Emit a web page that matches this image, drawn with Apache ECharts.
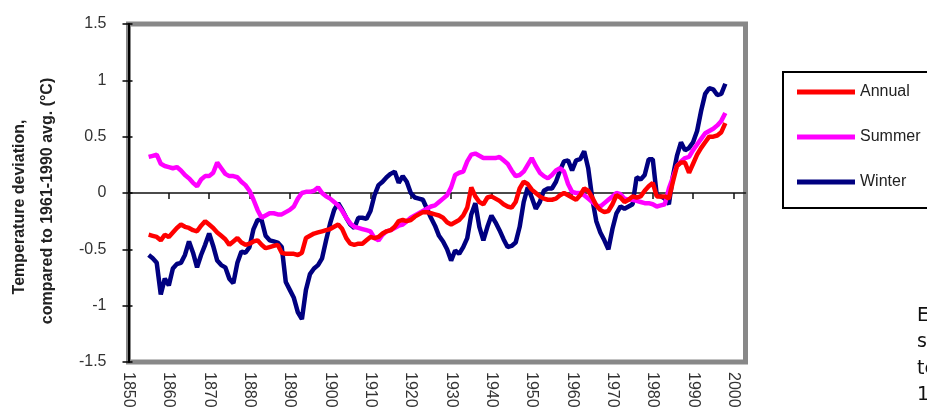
<!DOCTYPE html>
<html>
<head>
<meta charset="utf-8">
<script src="https://cdn.jsdelivr.net/npm/echarts@6/dist/echarts.min.js"></script>
<style>
	html, body {margin:0; padding:0; background:#fff;}
	#chart {width:927px; height:408px;}
</style>
</head>
<body>
<div id="chart"></div>
<script>
//	smoothed temperature deviation, one value per year from startYear
var startYear = 1855;

var annual = [
	-0.37,-0.38,-0.39,-0.42,-0.37,-0.39,-0.35,-0.31,-0.28,-0.30,	// 1855
	-0.31,-0.33,-0.34,-0.29,-0.25,-0.28,-0.31,-0.35,-0.38,-0.41,	// 1865
	-0.46,-0.43,-0.40,-0.44,-0.46,-0.45,-0.43,-0.42,-0.46,-0.49,	// 1875
	-0.48,-0.47,-0.46,-0.53,-0.54,-0.54,-0.54,-0.55,-0.53,-0.40,	// 1885
	-0.38,-0.36,-0.35,-0.34,-0.33,-0.32,-0.30,-0.28,-0.32,-0.40,	// 1895
	-0.45,-0.46,-0.45,-0.45,-0.42,-0.39,-0.40,-0.39,-0.36,-0.34,	// 1905
	-0.33,-0.30,-0.25,-0.24,-0.25,-0.24,-0.21,-0.19,-0.17,-0.17,	// 1915
	-0.18,-0.19,-0.20,-0.22,-0.26,-0.28,-0.26,-0.24,-0.20,-0.13,	// 1925
	0.05,-0.03,-0.08,-0.10,-0.04,-0.03,-0.05,-0.07,-0.10,-0.12,	// 1935
	-0.13,-0.08,0.04,0.10,0.08,0.03,0.00,-0.03,-0.05,-0.06,	// 1945
	-0.06,-0.05,-0.02,0.00,-0.02,-0.04,-0.06,-0.02,0.04,0.02,	// 1955
	-0.04,-0.11,-0.15,-0.17,-0.16,-0.10,-0.02,-0.04,-0.08,-0.06,	// 1965
	-0.03,-0.04,-0.03,0.02,0.06,0.09,-0.03,-0.03,-0.03,-0.05,	// 1975
	0.10,0.24,0.27,0.27,0.18,0.26,0.34,0.40,0.45,0.50,	// 1985
	0.50,0.51,0.54,0.62	// 1995
];

var summer = [
	0.32,0.33,0.34,0.26,0.24,0.23,0.22,0.23,0.20,0.16,
	0.13,0.09,0.06,0.12,0.15,0.15,0.18,0.27,0.22,0.17,
	0.15,0.15,0.14,0.10,0.07,0.02,-0.06,-0.15,-0.22,-0.20,
	-0.18,-0.18,-0.19,-0.19,-0.17,-0.15,-0.12,-0.05,0.00,0.01,
	0.01,0.02,0.05,0.00,-0.03,-0.05,-0.08,-0.11,-0.16,-0.22,
	-0.27,-0.30,-0.31,-0.32,-0.33,-0.34,-0.40,-0.42,-0.37,-0.34,
	-0.33,-0.31,-0.29,-0.28,-0.25,-0.22,-0.20,-0.18,-0.16,-0.14,
	-0.12,-0.11,-0.08,-0.05,-0.02,0.05,0.16,0.18,0.19,0.28,
	0.34,0.35,0.33,0.31,0.31,0.31,0.31,0.32,0.29,0.26,
	0.20,0.15,0.16,0.19,0.25,0.31,0.24,0.18,0.15,0.13,
	0.16,0.20,0.22,0.19,0.08,0.01,0.00,0.00,-0.02,-0.05,
	-0.08,-0.11,-0.12,-0.09,-0.06,-0.03,0.00,-0.01,-0.05,-0.06,
	-0.06,-0.07,-0.08,-0.09,-0.09,-0.10,-0.12,-0.11,-0.10,0.04,
	0.14,0.24,0.28,0.31,0.32,0.38,0.43,0.48,0.53,0.55,
	0.57,0.60,0.64,0.71
];

var winter = [
	-0.55,-0.58,-0.62,-0.90,-0.76,-0.82,-0.67,-0.63,-0.62,-0.55,
	-0.43,-0.53,-0.66,-0.55,-0.46,-0.36,-0.47,-0.60,-0.64,-0.66,
	-0.76,-0.80,-0.62,-0.52,-0.53,-0.48,-0.32,-0.24,-0.24,-0.38,
	-0.42,-0.43,-0.44,-0.48,-0.79,-0.86,-0.93,-1.06,-1.12,-0.86,
	-0.72,-0.67,-0.64,-0.58,-0.42,-0.27,-0.15,-0.09,-0.15,-0.22,
	-0.28,-0.31,-0.22,-0.22,-0.23,-0.16,-0.02,0.07,0.10,0.14,
	0.17,0.19,0.09,0.15,0.10,0.00,-0.04,-0.05,-0.06,-0.14,
	-0.22,-0.29,-0.38,-0.43,-0.50,-0.60,-0.51,-0.54,-0.48,-0.40,
	-0.19,-0.09,-0.30,-0.42,-0.30,-0.20,-0.26,-0.33,-0.41,-0.48,
	-0.47,-0.44,-0.30,-0.08,0.05,-0.04,-0.14,-0.08,0.02,0.04,
	0.04,0.10,0.20,0.28,0.29,0.20,0.29,0.30,0.37,0.22,
	-0.05,-0.25,-0.35,-0.42,-0.50,-0.32,-0.18,-0.12,-0.14,-0.12,
	-0.10,0.14,0.12,0.16,0.30,0.30,-0.02,-0.03,-0.05,-0.10,
	0.15,0.33,0.45,0.38,0.40,0.45,0.55,0.73,0.88,0.93,
	0.92,0.87,0.88,0.97
];

var xTicks = [1850, 1860, 1870, 1880, 1890, 1900, 1910, 1920, 1930, 1940, 1950, 1960, 1970, 1980, 1990, 2000];
var seriesNames = ['Annual', 'Summer', 'Winter'];
var yTitle = ['Temperature deviation,', 'compared to 1961-1990 avg. (\u00b0C)'];
//	cut-off text of the next column on the page
var sideText = ['E', 's', 'te', '1'];


function pairs(vals) {
	var out = [];
	for(var i=0; i<vals.length; i++) {
		out.push([startYear + i, vals[i]]);
	}
	return out;
}

var font = '"Liberation Sans", Arial, sans-serif';
var myChart = echarts.init(document.getElementById('chart'), null, {renderer: 'canvas'});

var graphics = [
	{type: 'text', x: 20, y: 207, rotation: Math.PI/2,
		style: {text: yTitle[0], font: 'bold 16px ' + font, fill: '#222', textAlign: 'center', textVerticalAlign: 'middle', align: 'center', verticalAlign: 'middle'}},
	{type: 'text', x: 48, y: 201, rotation: Math.PI/2,
		style: {text: yTitle[1], font: 'bold 16px ' + font, fill: '#222', textAlign: 'center', textVerticalAlign: 'middle', align: 'center', verticalAlign: 'middle'}}
];
for(var i=0; i<sideText.length; i++) {
	graphics.push({type: 'text', x: 917, y: 316 + i*26.5,
		style: {text: sideText[i], font: '19px "DejaVu Sans", Verdana, sans-serif', fill: '#111', textVerticalAlign: 'middle', verticalAlign: 'middle'}});
}

var option = {
	animation: false,
	textStyle: {fontFamily: font},
	grid: {
		left: 128.5,
		right: 181.5,
		top: 24,
		bottom: 46,
		outerBoundsMode: 'none',
		containLabel: false,
		show: true,
		borderColor: '#888',
		borderWidth: 5,
		backgroundColor: '#fff'
	},
	legend: {
		data: seriesNames,
		orient: 'vertical',
		left: 783,
		top: 72,
		padding: [12, 60, 18, 14],
		itemWidth: 58,
		itemHeight: 5,
		itemGap: 29,
		icon: 'rect',
		borderColor: '#000',
		borderWidth: 2,
		textStyle: {fontSize: 16, color: '#222', fontFamily: font}
	},
	xAxis: [
		{	// zero line with ticks hanging below
			type: 'value', min: 1850, max: 2003, interval: 10,
			axisLine: {show: true, onZero: true, lineStyle: {color: '#111', width: 1.5}},
			axisTick: {show: true, length: 6, customValues: xTicks, lineStyle: {color: '#111', width: 1.5}},
			axisLabel: {show: false},
			splitLine: {show: false}
		},
		{	// upper half of the ticks
			type: 'value', min: 1850, max: 2003, interval: 10,
			axisLine: {show: true, onZero: true, lineStyle: {color: '#111', width: 1.5, opacity: 0}},
			axisTick: {show: true, inside: true, length: 3, customValues: xTicks, lineStyle: {color: '#111', width: 1.5}},
			axisLabel: {show: false},
			splitLine: {show: false}
		},
		{	// labels under the frame
			type: 'value', min: 1850, max: 2003, interval: 10, position: 'bottom',
			axisLine: {show: false, onZero: false},
			axisTick: {show: false},
			axisLabel: {
				rotate: -90, margin: 10, fontSize: 16, color: '#333', customValues: xTicks,
				formatter: function(v) { return String(v); }
			},
			splitLine: {show: false}
		}
	],
	yAxis: [
		{
			type: 'value', min: -1.5, max: 1.5, interval: 0.5, position: 'left',
			axisLine: {show: true, onZero: false, lineStyle: {color: '#000', width: 2}},
			axisTick: {show: true, length: 6, lineStyle: {color: '#000', width: 1.5}},
			axisLabel: {fontSize: 16, color: '#333', margin: 22},
			splitLine: {show: false}
		},
		{
			type: 'value', min: -1.5, max: 1.5, interval: 0.5, position: 'left',
			axisLine: {show: false, onZero: false},
			axisTick: {show: true, inside: true, length: 4, lineStyle: {color: '#000', width: 1.5}},
			axisLabel: {show: false},
			splitLine: {show: false}
		}
	],
	series: [
		{
			name: 'Winter', type: 'line', data: pairs(winter),
			showSymbol: false, color: '#000080',
			lineStyle: {color: '#000080', width: 4.5}
		},
		{
			name: 'Summer', type: 'line', data: pairs(summer),
			showSymbol: false, color: '#ff00ff',
			lineStyle: {color: '#ff00ff', width: 4.5}
		},
		{
			name: 'Annual', type: 'line', data: pairs(annual),
			showSymbol: false, color: '#ff0000',
			lineStyle: {color: '#ff0000', width: 4.5}
		}
	],
	graphic: graphics
};

myChart.setOption(option);
</script>
</body>
</html>
